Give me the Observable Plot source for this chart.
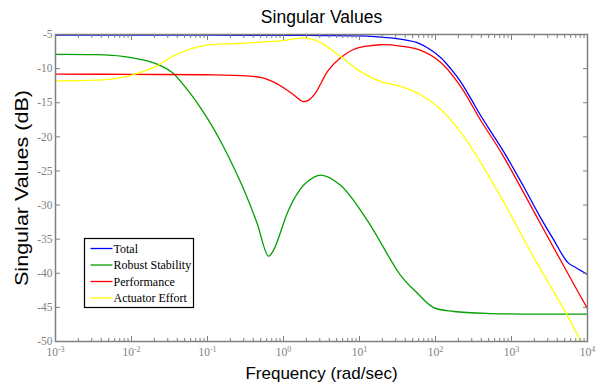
<!DOCTYPE html>
<html><head><meta charset="utf-8">
<script src="https://cdn.jsdelivr.net/npm/d3@7"></script>
<script src="https://cdn.jsdelivr.net/npm/@observablehq/plot@0.6"></script>
<style>body{margin:0;background:#fff;} #chart{width:606px;height:385px;}</style>
</head><body><div id="chart"></div>
<script>
const titleText = "Singular Values";
const xLabelText = "Frequency (rad/sec)";
const yLabelText = "Singular Values (dB)";

const seriesNames = ["Total", "Robust Stability", "Performance", "Actuator Effort"];
const seriesColors = ["#0000ff", "#00a000", "#ff0000", "#ffff00"];

const freqTotal = [0.001, 0.1, 1, 3.16, 10, 15.8, 25.7, 39.8, 57.5, 85.1, 117.5, 158.5, 213.8, 288.4, 389, 562, 832, 1413, 2399, 3548, 5495, 7079, 10000];
const valTotal  = [-5.1, -5.1, -5.12, -5.15, -5.2, -5.3, -5.5, -5.8, -6.2, -7.2, -8.4, -10.0, -11.9, -14.3, -16.8, -19.6, -22.6, -27.1, -31.8, -35.0, -38.4, -39.2, -40.2];

const freqRobust = [0.001, 0.00316, 0.00759, 0.0166, 0.0257, 0.0347, 0.0562, 0.0794, 0.112, 0.158, 0.224, 0.316, 0.447, 0.635, 0.741, 1.12, 1.41, 1.95, 3.09, 5.62, 12.6, 34.7, 57.5, 93.3, 174, 525, 10000];
const valRobust  = [-7.9, -7.95, -8.2, -8.9, -9.7, -10.6, -13.3, -15.6, -18.2, -21.2, -24.6, -28.3, -32.6, -37.5, -36.6, -31.2, -28.9, -26.8, -25.6, -27.1, -32.2, -40.3, -42.9, -45.0, -45.6, -45.9, -46.0];

const freqPerf = [0.001, 0.01, 0.1, 0.316, 0.501, 0.724, 1, 1.38, 1.78, 2.09, 2.63, 3.16, 3.80, 5.62, 8.32, 12.6, 19.1, 34.7, 63.1, 117.5, 213.8, 389, 759, 2399, 5495, 10000];
const valPerf  = [-10.8, -10.85, -10.9, -11.05, -11.3, -11.9, -12.8, -13.9, -14.8, -14.7, -13.6, -12.0, -10.4, -8.4, -7.2, -6.7, -6.5, -6.7, -7.3, -9.1, -12.6, -17.5, -22.6, -32.7, -40.0, -45.2];

const freqAct = [0.001, 0.00457, 0.00759, 0.0112, 0.0209, 0.0347, 0.0562, 0.0933, 0.257, 0.977, 1.45, 1.82, 2.40, 3.09, 5.62, 10.2, 19.1, 34.7, 63.1, 117.5, 213.8, 339, 724, 1950, 5129, 8128, 10000];
const valAct  = [-11.8, -11.6, -11.3, -10.8, -9.7, -8.2, -7.2, -6.6, -6.3, -5.9, -5.6, -5.5, -5.7, -6.2, -8.2, -10.4, -11.9, -12.6, -13.8, -16.0, -19.3, -22.6, -28.8, -37.6, -45.7, -49.9, -51.8];

const xMajorTicks = [1e-3, 1e-2, 1e-1, 1, 10, 100, 1000, 10000];
const xTickExponents = ["-3", "-2", "-1", "0", "1", "2", "3", "4"];
const yTicks = [-50, -45, -40, -35, -30, -25, -20, -15, -10, -5];

const xMinorTicks = [];
for (let d = -3; d < 4; d++) for (let k = 2; k <= 9; k++) xMinorTicks.push(+(k * Math.pow(10, d)).toPrecision(3));

const seriesData = [[freqTotal, valTotal], [freqRobust, valRobust], [freqPerf, valPerf], [freqAct, valAct]];
const rows = [];
seriesData.forEach(([fs, vs], i) => fs.forEach((f, j) => rows.push({series: seriesNames[i], f, v: vs[j]})));

const gray = "#7f7f7f";
const serif = "Liberation Serif";
const sans = "Liberation Sans";
const expOf = new Map(xMajorTicks.map((t, i) => [t, xTickExponents[i]]));

const plot = Plot.plot({
  width: 606, height: 385,
  marginLeft: 55, marginRight: 19, marginTop: 34, marginBottom: 44,
  style: {background: "#fff", fontFamily: serif, overflow: "visible"},
  x: {type: "log", domain: [1e-3, 1e4]},
  y: {domain: [-50, -5]},
  color: {domain: seriesNames, range: seriesColors},
  marks: [
    Plot.line(rows, {x: "f", y: "v", z: "series", stroke: "series", curve: "catmull-rom", strokeWidth: 1.3, clip: true}),
    Plot.axisX({anchor: "bottom", ticks: xMajorTicks, tickSize: 0, tickPadding: 6, fontSize: 11.5, fill: gray, tickFormat: d => "10^" + expOf.get(d), label: null}),
    Plot.axisY({anchor: "left", ticks: yTicks, tickSize: 0, tickPadding: 3, fontSize: 11.5, fill: gray, tickFormat: d => String(d), label: null}),
    Plot.axisX({anchor: "bottom", ticks: xMajorTicks, tickSize: -5, stroke: gray, tickFormat: () => "", label: null}),
    Plot.axisX({anchor: "bottom", ticks: xMinorTicks, tickSize: -3, stroke: gray, tickFormat: () => "", label: null}),
    Plot.axisX({anchor: "top", ticks: xMajorTicks, tickSize: -5, stroke: gray, tickFormat: () => "", label: null}),
    Plot.axisX({anchor: "top", ticks: xMinorTicks, tickSize: -3, stroke: gray, tickFormat: () => "", label: null}),
    Plot.axisY({anchor: "left", ticks: yTicks, tickSize: -5, stroke: gray, tickFormat: () => "", label: null}),
    Plot.axisY({anchor: "right", ticks: yTicks, tickSize: -5, stroke: gray, tickFormat: () => "", label: null}),
    Plot.frame({stroke: gray, strokeWidth: 1.5}),
    Plot.text([titleText], {frameAnchor: "top", dy: -17, fontSize: 17.5, fontFamily: sans, fill: "#000", lineAnchor: "middle", textAnchor: "middle"}),
    Plot.text([xLabelText], {frameAnchor: "bottom", dy: 32, fontSize: 17, fontFamily: sans, fill: "#000", lineAnchor: "middle", textAnchor: "middle"}),
    Plot.text([yLabelText], {frameAnchor: "left", dx: -33, rotate: -90, fontSize: 18, fontFamily: sans, fill: "#000", lineAnchor: "middle", textAnchor: "middle"})
  ]
});
document.getElementById("chart").appendChild(plot);

const svg = d3.select(plot);
// tick labels in a Times-like serif, as MATLAB draws them
const labelGroups = svg.selectAll('g[aria-label="x-axis tick label"], g[aria-label="y-axis tick label"]');
labelGroups.attr("font-family", serif).style("font-family", serif);
labelGroups.selectAll("text").attr("font-family", serif).style("font-family", serif);
svg.selectAll('g[aria-label="x-axis tick label"] text').each(function() {
  const t = this.textContent;
  if (!t.startsWith("10^")) return;
  const e = t.slice(3);
  const sel = d3.select(this);
  sel.text("10");
  sel.append("tspan").attr("dy", "-0.45em").attr("font-size", "8px").text(e);
});
// stretch the rotated y label along its baseline, as in the reference
svg.selectAll("text").filter(function() { return this.textContent === yLabelText; })
  .attr("textLength", 196).attr("lengthAdjust", "spacingAndGlyphs");

// legend
const lg = svg.append("g").attr("transform", "translate(84.5,238.5)");
lg.append("rect").attr("width", 109).attr("height", 69).attr("fill", "#fff").attr("stroke", "#000").attr("stroke-width", 1.2);
seriesNames.forEach((n, i) => {
  const y = 10 + i * 16.5;
  lg.append("line").attr("x1", 6).attr("x2", 28).attr("y1", y).attr("y2", y).attr("stroke", seriesColors[i]).attr("stroke-width", 1.3);
  lg.append("text").attr("x", 29).attr("y", y).attr("dy", "0.35em").attr("text-anchor", "start")
    .attr("font-family", serif).attr("font-size", 12).attr("fill", "#000").text(n);
});
</script>
</body></html>
